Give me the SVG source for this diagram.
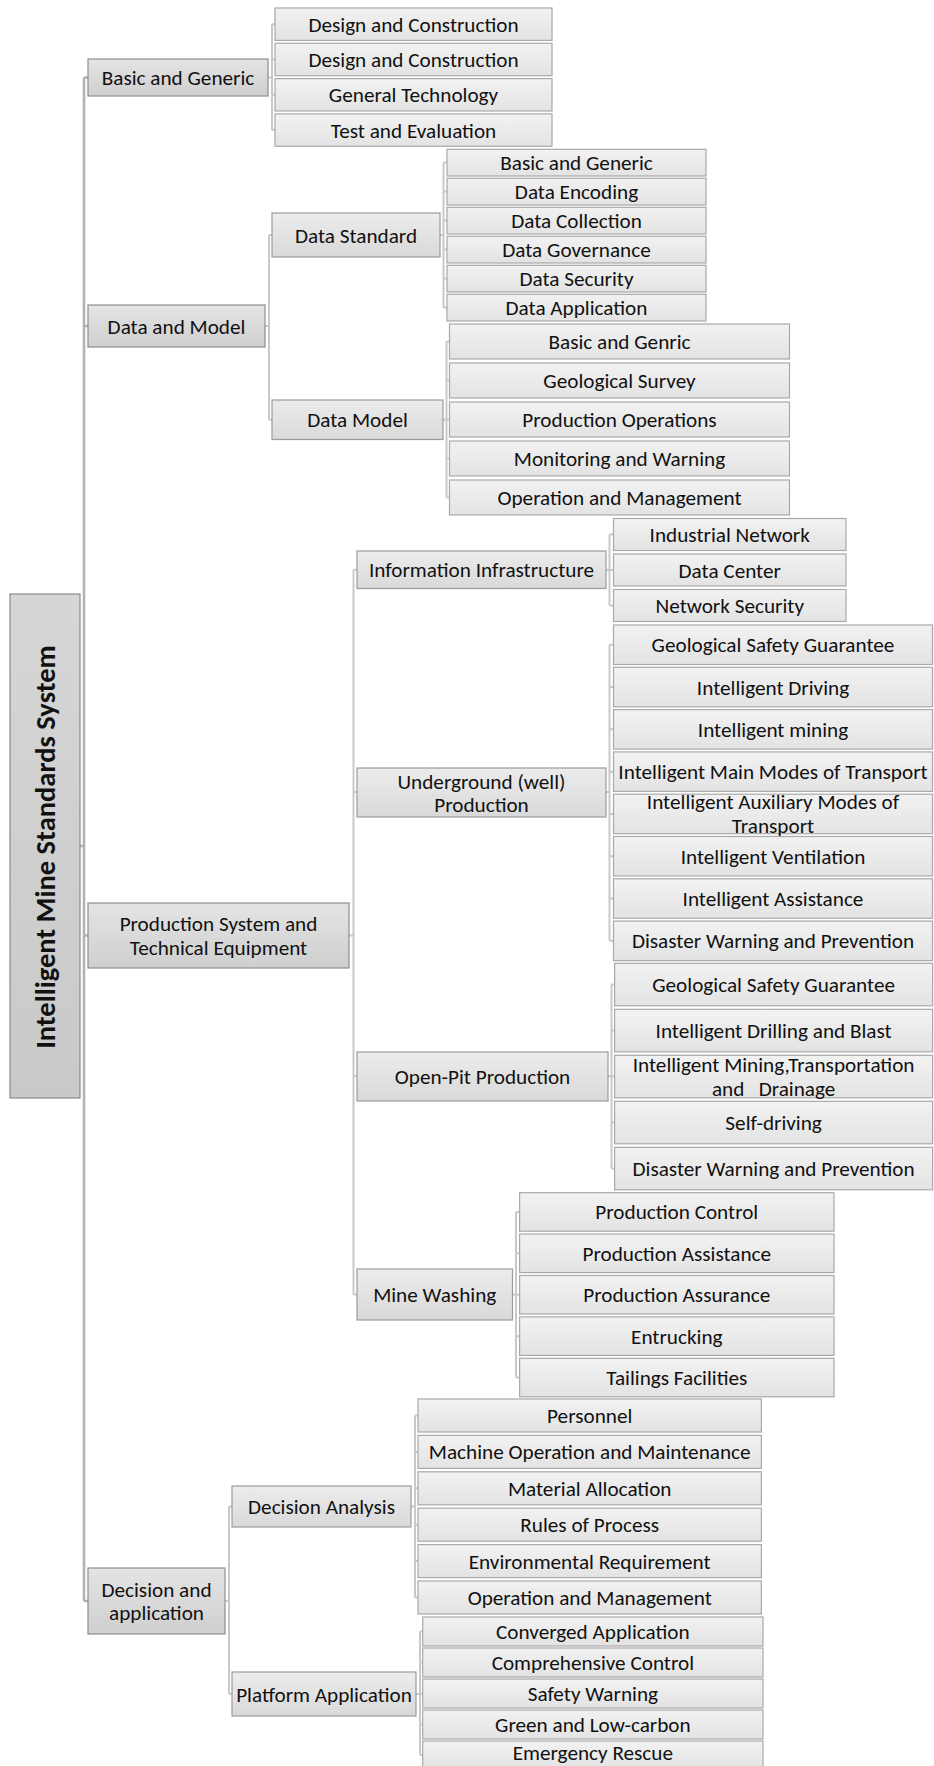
<svg xmlns="http://www.w3.org/2000/svg" width="934" height="1766" viewBox="0 0 934 1766">
<style>
  text { font-family: Carlito, Lato, "Liberation Sans", sans-serif; font-size: 21.2px; fill: #111; text-anchor: middle; }
  .root-t { font-weight: bold; font-size: 28.5px; }
  .leaf { fill: url(#gLeaf); stroke: #a9a9a9; stroke-width: 1.2; }
  .l2 { fill: url(#gL2); stroke: #9c9c9c; stroke-width: 1.2; }
  .l1 { fill: url(#gL1); stroke: #8e8e8e; stroke-width: 1.2; }
  .root { fill: url(#gRoot); stroke: #8a8a8a; stroke-width: 1.2; }
  .main { stroke: #b3b3b3; stroke-width: 2.6; fill: none; }
  .con { stroke: #c9c9c9; stroke-width: 2; fill: none; }
</style>
<defs>
  <linearGradient id="gLeaf" x1="0" y1="0" x2="0" y2="1"><stop offset="0" stop-color="#f2f2f2"/><stop offset="1" stop-color="#e3e3e3"/></linearGradient>
  <linearGradient id="gL2" x1="0" y1="0" x2="0" y2="1"><stop offset="0" stop-color="#ececec"/><stop offset="1" stop-color="#d9d9d9"/></linearGradient>
  <linearGradient id="gL1" x1="0" y1="0" x2="0" y2="1"><stop offset="0" stop-color="#e4e4e4"/><stop offset="1" stop-color="#cfcfcf"/></linearGradient>
  <linearGradient id="gRoot" x1="0" y1="0" x2="0" y2="1"><stop offset="0" stop-color="#d6d6d6"/><stop offset="1" stop-color="#c9c9c9"/></linearGradient>
</defs>

<g id="connectors">
  <path class="main" d="M84,77.5 V1601 M80,846 H84 M84,77.5 H88 M84,326 H88 M84,935.5 H88 M84,1601 H88"/>
  <path class="con" d="M268,77.5 H272 M272,24.2 V130.1 M272,24.2 H275 M272,59.5 H275 M272,94.8 H275 M272,130.1 H275"/>
  <path class="con" d="M265,326 H269 M269,235 V419.7 M269,235 H272 M269,419.7 H272"/>
  <path class="con" d="M440,235 H443.5 M443.5,162.6 V307.6 M443.5,162.6 H447 M443.5,191.6 H447 M443.5,220.6 H447 M443.5,249.6 H447 M443.5,278.6 H447 M443.5,307.6 H447"/>
  <path class="con" d="M443,419.7 H446.5 M446.5,341.5 V497.5 M446.5,341.5 H449.5 M446.5,380.5 H449.5 M446.5,419.5 H449.5 M446.5,458.5 H449.5 M446.5,497.5 H449.5"/>
  <path class="con" d="M349,935.5 H353.5 M353.5,569.7 V1294.5 M353.5,569.7 H357 M353.5,792 H357 M353.5,1076 H357 M353.5,1294.5 H357"/>
  <path class="con" d="M606,569.7 H609.5 M609.5,534.5 V605.5 M609.5,534.5 H613.5 M609.5,570 H613.5 M609.5,605.5 H613.5"/>
  <path class="con" d="M606,792 H609.5 M609.5,644.75 V940.85 M609.5,644.75 H613.5 M609.5,687.05 H613.5 M609.5,729.35 H613.5 M609.5,771.65 H613.5 M609.5,813.95 H613.5 M609.5,856.25 H613.5 M609.5,898.55 H613.5 M609.5,940.85 H613.5"/>
  <path class="con" d="M608,1076 H611.5 M611.5,984.55 V1168.55 M611.5,984.55 H614.6 M611.5,1030.55 H614.6 M611.5,1076.55 H614.6 M611.5,1122.55 H614.6 M611.5,1168.55 H614.6"/>
  <path class="con" d="M512.5,1294.5 H516 M516,1211.95 V1377.55 M516,1211.95 H519.6 M516,1253.35 H519.6 M516,1294.75 H519.6 M516,1336.15 H519.6 M516,1377.55 H519.6"/>
  <path class="con" d="M225,1601 H229 M229,1506.5 V1694 M229,1506.5 H232 M229,1694 H232"/>
  <path class="con" d="M411,1506.5 H415 M415,1415.5 V1597.5 M415,1415.5 H418 M415,1451.9 H418 M415,1488.3 H418 M415,1524.7 H418 M415,1561.1 H418 M415,1597.5 H418"/>
  <path class="con" d="M416,1694 H420 M420,1631.5 V1755 M420,1631.5 H422.7 M420,1662.5 H422.7 M420,1693.5 H422.7 M420,1724.5 H422.7 M420,1755 H422.7"/>
</g>

<g id="root">
  <rect class="root" x="10" y="594" width="70" height="504"/>
  <text class="root-t" transform="translate(45,847) rotate(-90)" x="0" y="9.5">Intelligent Mine Standards System</text>
</g>

<g id="basic-generic">
  <rect class="l1" x="88" y="59" width="180" height="37"/>
  <text x="178" y="85">Basic and Generic</text>
</g>
<g id="bg-1"><rect class="leaf" x="275" y="8" width="277" height="32.4"/><text x="413.5" y="31.7">Design and Construction</text></g>
<g id="bg-2"><rect class="leaf" x="275" y="43.3" width="277" height="32.4"/><text x="413.5" y="67">Design and Construction</text></g>
<g id="bg-3"><rect class="leaf" x="275" y="78.6" width="277" height="32.4"/><text x="413.5" y="102.3">General Technology</text></g>
<g id="bg-4"><rect class="leaf" x="275" y="113.9" width="277" height="32.4"/><text x="413.5" y="137.6">Test and Evaluation</text></g>

<g id="data-model">
  <rect class="l1" x="88" y="305" width="177" height="42"/>
  <text x="176.5" y="333.5">Data and Model</text>
</g>
<g id="data-standard">
  <rect class="l2" x="272" y="213" width="168" height="44"/>
  <text x="356" y="242.5">Data Standard</text>
</g>
<g id="ds-1"><rect class="leaf" x="447" y="149.3" width="259" height="26.7"/><text x="576.5" y="170">Basic and Generic</text></g>
<g id="ds-2"><rect class="leaf" x="447" y="178.3" width="259" height="26.7"/><text x="576.5" y="199">Data Encoding</text></g>
<g id="ds-3"><rect class="leaf" x="447" y="207.3" width="259" height="26.7"/><text x="576.5" y="228">Data Collection</text></g>
<g id="ds-4"><rect class="leaf" x="447" y="236.3" width="259" height="26.7"/><text x="576.5" y="257">Data Governance</text></g>
<g id="ds-5"><rect class="leaf" x="447" y="265.3" width="259" height="26.7"/><text x="576.5" y="286">Data Security</text></g>
<g id="ds-6"><rect class="leaf" x="447" y="294.3" width="259" height="26.7"/><text x="576.5" y="315">Data Application</text></g>

<g id="data-model-2">
  <rect class="l2" x="272" y="400" width="171" height="39.5"/>
  <text x="357.5" y="427.2">Data Model</text>
</g>
<g id="dm-1"><rect class="leaf" x="449.5" y="324" width="340" height="35"/><text x="619.5" y="349">Basic and Genric</text></g>
<g id="dm-2"><rect class="leaf" x="449.5" y="363" width="340" height="35"/><text x="619.5" y="388">Geological Survey</text></g>
<g id="dm-3"><rect class="leaf" x="449.5" y="402" width="340" height="35"/><text x="619.5" y="427">Production Operations</text></g>
<g id="dm-4"><rect class="leaf" x="449.5" y="441" width="340" height="35"/><text x="619.5" y="466">Monitoring and Warning</text></g>
<g id="dm-5"><rect class="leaf" x="449.5" y="480" width="340" height="35"/><text x="619.5" y="505">Operation and Management</text></g>

<g id="production-system">
  <rect class="l1" x="88" y="903" width="261" height="65"/>
  <text x="218.5" y="931">Production System and</text>
  <text x="218.5" y="955">Technical Equipment</text>
</g>

<g id="info-infra">
  <rect class="l2" x="357" y="551" width="249" height="37.5"/>
  <text x="481.5" y="577.2">Information Infrastructure</text>
</g>
<g id="ii-1"><rect class="leaf" x="613.5" y="518.5" width="232.5" height="32"/><text x="729.75" y="542">Industrial Network</text></g>
<g id="ii-2"><rect class="leaf" x="613.5" y="554" width="232.5" height="32"/><text x="729.75" y="577.5">Data Center</text></g>
<g id="ii-3"><rect class="leaf" x="613.5" y="589.5" width="232.5" height="32"/><text x="729.75" y="613">Network Security</text></g>

<g id="underground">
  <rect class="l2" x="357" y="768" width="249" height="49"/>
  <text x="481.5" y="788.5">Underground (well)</text>
  <text x="481.5" y="811.8">Production</text>
</g>
<g id="ug-1"><rect class="leaf" x="613.5" y="625" width="319" height="39.5"/><text x="773" y="652.25">Geological Safety Guarantee</text></g>
<g id="ug-2"><rect class="leaf" x="613.5" y="667.3" width="319" height="39.5"/><text x="773" y="694.55">Intelligent Driving</text></g>
<g id="ug-3"><rect class="leaf" x="613.5" y="709.6" width="319" height="39.5"/><text x="773" y="736.85">Intelligent mining</text></g>
<g id="ug-4"><rect class="leaf" x="613.5" y="751.9" width="319" height="39.5"/><text x="773" y="779.15">Intelligent Main Modes of Transport</text></g>
<g id="ug-5"><rect class="leaf" x="613.5" y="794.2" width="319" height="39.5"/><text x="773" y="809.2">Intelligent Auxiliary Modes of</text><text x="773" y="832.5">Transport</text></g>
<g id="ug-6"><rect class="leaf" x="613.5" y="836.5" width="319" height="39.5"/><text x="773" y="863.75">Intelligent Ventilation</text></g>
<g id="ug-7"><rect class="leaf" x="613.5" y="878.8" width="319" height="39.5"/><text x="773" y="906.05">Intelligent Assistance</text></g>
<g id="ug-8"><rect class="leaf" x="613.5" y="921.1" width="319" height="39.5"/><text x="773" y="948.35">Disaster Warning and Prevention</text></g>

<g id="open-pit">
  <rect class="l2" x="357" y="1052" width="251" height="49"/>
  <text x="482.5" y="1083.5">Open-Pit Production</text>
</g>
<g id="op-1"><rect class="leaf" x="614.6" y="963.3" width="318" height="42.5"/><text x="773.6" y="992.05">Geological Safety Guarantee</text></g>
<g id="op-2"><rect class="leaf" x="614.6" y="1009.3" width="318" height="42.5"/><text x="773.6" y="1038.05">Intelligent Drilling and Blast</text></g>
<g id="op-3"><rect class="leaf" x="614.6" y="1055.3" width="318" height="42.5"/><text x="773.6" y="1071.5">Intelligent Mining,Transportation</text><text x="773.6" y="1096.2" xml:space="preserve" style="white-space:pre">and   Drainage</text></g>
<g id="op-4"><rect class="leaf" x="614.6" y="1101.3" width="318" height="42.5"/><text x="773.6" y="1130.05">Self-driving</text></g>
<g id="op-5"><rect class="leaf" x="614.6" y="1147.3" width="318" height="42.5"/><text x="773.6" y="1176.05">Disaster Warning and Prevention</text></g>

<g id="mine-washing">
  <rect class="l2" x="357" y="1269" width="155.5" height="51"/>
  <text x="434.7" y="1302">Mine Washing</text>
</g>
<g id="mw-1"><rect class="leaf" x="519.6" y="1192.7" width="314.4" height="38.5"/><text x="676.8" y="1219.45">Production Control</text></g>
<g id="mw-2"><rect class="leaf" x="519.6" y="1234.1" width="314.4" height="38.5"/><text x="676.8" y="1260.85">Production Assistance</text></g>
<g id="mw-3"><rect class="leaf" x="519.6" y="1275.5" width="314.4" height="38.5"/><text x="676.8" y="1302.25">Production Assurance</text></g>
<g id="mw-4"><rect class="leaf" x="519.6" y="1316.9" width="314.4" height="38.5"/><text x="676.8" y="1343.65">Entrucking</text></g>
<g id="mw-5"><rect class="leaf" x="519.6" y="1358.3" width="314.4" height="38.5"/><text x="676.8" y="1385.05">Tailings Facilities</text></g>

<g id="decision-application">
  <rect class="l1" x="88" y="1568" width="137" height="66"/>
  <text x="156.5" y="1596.8">Decision and</text>
  <text x="156.5" y="1620.2">application</text>
</g>
<g id="decision-analysis">
  <rect class="l2" x="232" y="1486" width="179" height="41"/>
  <text x="321.5" y="1514">Decision Analysis</text>
</g>
<g id="da-1"><rect class="leaf" x="418" y="1399" width="343.4" height="33"/><text x="589.7" y="1423">Personnel</text></g>
<g id="da-2"><rect class="leaf" x="418" y="1435.4" width="343.4" height="33"/><text x="589.7" y="1459.4">Machine Operation and Maintenance</text></g>
<g id="da-3"><rect class="leaf" x="418" y="1471.8" width="343.4" height="33"/><text x="589.7" y="1495.8">Material Allocation</text></g>
<g id="da-4"><rect class="leaf" x="418" y="1508.2" width="343.4" height="33"/><text x="589.7" y="1532.2">Rules of Process</text></g>
<g id="da-5"><rect class="leaf" x="418" y="1544.6" width="343.4" height="33"/><text x="589.7" y="1568.6">Environmental Requirement</text></g>
<g id="da-6"><rect class="leaf" x="418" y="1581" width="343.4" height="33"/><text x="589.7" y="1605">Operation and Management</text></g>

<g id="platform-application">
  <rect class="l2" x="232" y="1672" width="184" height="44"/>
  <text x="324" y="1701.5">Platform Application</text>
</g>
<g id="pa-1"><rect class="leaf" x="422.7" y="1617" width="340.3" height="29"/><text x="592.85" y="1639">Converged Application</text></g>
<g id="pa-2"><rect class="leaf" x="422.7" y="1648" width="340.3" height="29"/><text x="592.85" y="1670">Comprehensive Control</text></g>
<g id="pa-3"><rect class="leaf" x="422.7" y="1679" width="340.3" height="29"/><text x="592.85" y="1701">Safety Warning</text></g>
<g id="pa-4"><rect class="leaf" x="422.7" y="1710" width="340.3" height="29"/><text x="592.85" y="1732">Green and Low-carbon</text></g>
<g id="pa-5"><rect class="leaf" x="422.7" y="1741" width="340.3" height="29"/><text x="592.85" y="1759.5">Emergency Rescue</text></g>
</svg>
